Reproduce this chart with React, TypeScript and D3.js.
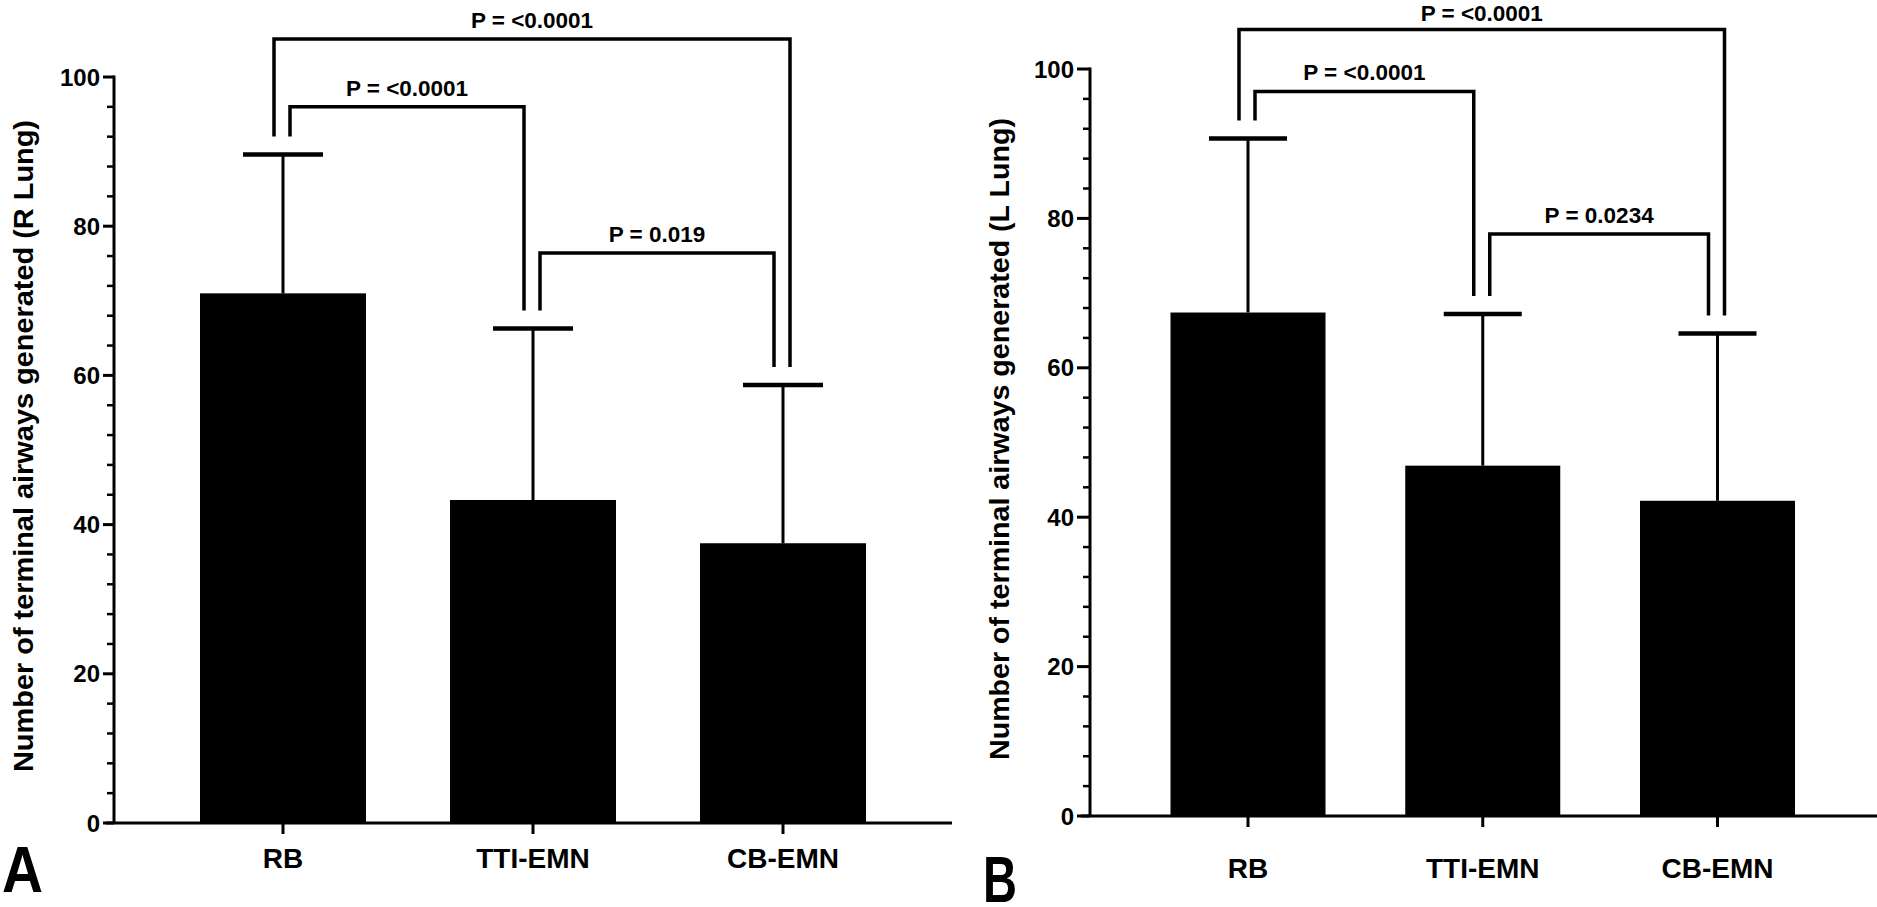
import React from "react";
import * as d3 from "d3";

// ---- data ----
const categories = ["RB", "TTI-EMN", "CB-EMN"];
const meanR = [71.0, 43.3, 37.5];
const sdR = [18.6, 23.0, 21.2];
const meanL = [67.4, 46.9, 42.2];
const sdL = [23.3, 20.3, 22.4];
const yTicks = [0, 20, 40, 60, 80, 100];
const compPairs: [number, number][] = [
  [0, 2],
  [0, 1],
  [1, 2],
];
const compLabelsR = ["P = <0.0001", "P = <0.0001", "P = 0.019"];
const compLabelsL = ["P = <0.0001", "P = <0.0001", "P = 0.0234"];
const compLevelsR = [105.1, 96.0, 76.4];
const compLevelsL = [105.3, 97.0, 77.9];
const yLabelR = "Number of terminal airways generated (R Lung)";
const yLabelL = "Number of terminal airways generated (L Lung)";

const FONT = "'Liberation Sans', Arial, sans-serif";

type PanelCfg = {
  letter: string;
  means: number[];
  sds: number[];
  labels: string[];
  levels: number[];
  yLabel: string;
  axisX: number;
  xAxisLeft: number;
  xAxisRight: number;
  y0: number;
  y100: number;
  c0: number;
  c1: number;
  barW: number;
  capHalf: number;
  tickLen: number;
  yLabelX: number;
  yLabelMid: number;
  yLabelLen: number;
  catBaseline: number;
  letterX: number;
  letterBase: number;
  letterW: number;
};

function Panel({ cfg }: { cfg: PanelCfg }) {
  const y = d3.scaleLinear().domain([0, 100]).range([cfg.y0, cfg.y100]);
  const x = d3.scalePoint<string>().domain(categories).range([cfg.c0, cfg.c1]);
  const minor = d3.range(0, 101, 4).filter((v) => v % 20 !== 0);
  const legGap = 18;
  const capTop = (i: number) => y(cfg.means[i] + cfg.sds[i]);
  return (
    <g>
      {/* bars */}
      {categories.map((c, i) => (
        <rect
          key={c}
          x={(x(c) as number) - cfg.barW / 2}
          y={y(cfg.means[i])}
          width={cfg.barW}
          height={y(0) - y(cfg.means[i])}
          fill="#000"
        />
      ))}
      {/* error bars */}
      {categories.map((c, i) => {
        const cx = x(c) as number;
        const top = capTop(i);
        return (
          <g key={"e" + c}>
            <line x1={cx} x2={cx} y1={y(cfg.means[i])} y2={top} stroke="#000" strokeWidth={3} />
            <line x1={cx - cfg.capHalf} x2={cx + cfg.capHalf} y1={top} y2={top} stroke="#000" strokeWidth={4.5} />
          </g>
        );
      })}
      {/* axes */}
      <line x1={cfg.axisX} x2={cfg.axisX} y1={y(0)} y2={y(100) - 1.5} stroke="#000" strokeWidth={3} />
      <line x1={cfg.xAxisLeft} x2={cfg.xAxisRight} y1={y(0)} y2={y(0)} stroke="#000" strokeWidth={3} />
      {yTicks.map((t) => (
        <g key={"t" + t}>
          <line x1={cfg.axisX - cfg.tickLen} x2={cfg.axisX} y1={y(t)} y2={y(t)} stroke="#000" strokeWidth={3} />
          <text
            x={cfg.axisX - cfg.tickLen - 3}
            y={y(t)}
            dy="0.36em"
            textAnchor="end"
            fontFamily={FONT}
            fontWeight="bold"
            fontSize={24}
          >
            {t}
          </text>
        </g>
      ))}
      {minor.map((t) => (
        <line
          key={"m" + t}
          x1={cfg.axisX - 7}
          x2={cfg.axisX}
          y1={y(t)}
          y2={y(t)}
          stroke="#000"
          strokeWidth={2.5}
        />
      ))}
      {categories.map((c) => (
        <g key={"x" + c}>
          <line x1={x(c) as number} x2={x(c) as number} y1={y(0)} y2={y(0) + 11} stroke="#000" strokeWidth={3} />
          <text
            x={x(c) as number}
            y={cfg.catBaseline}
            textAnchor="middle"
            fontFamily={FONT}
            fontWeight="bold"
            fontSize={28}
          >
            {c}
          </text>
        </g>
      ))}
      {/* comparison brackets */}
      {compPairs.map(([a, b], k) => {
        const wide = b - a > 1;
        const xa = (x(categories[a]) as number) + (wide ? -9 : 7);
        const xb = (x(categories[b]) as number) + (wide ? 7 : -9);
        const yl = y(cfg.levels[k]);
        const path = `M${xa},${capTop(a) - legGap}V${yl}H${xb}V${capTop(b) - legGap}`;
        return (
          <g key={"c" + k}>
            <path d={path} fill="none" stroke="#000" strokeWidth={3.5} />
            <text
              x={(xa + xb) / 2}
              y={Math.max(yl - 11, 21)}
              textAnchor="middle"
              fontFamily={FONT}
              fontWeight="bold"
              fontSize={22.5}
            >
              {cfg.labels[k]}
            </text>
          </g>
        );
      })}
      {/* y label */}
      <text
        transform={`translate(${cfg.yLabelX},${cfg.yLabelMid}) rotate(-90)`}
        textAnchor="middle"
        fontFamily={FONT}
        fontWeight="bold"
        fontSize={28.5}
        textLength={cfg.yLabelLen}
        lengthAdjust="spacingAndGlyphs"
      >
        {cfg.yLabel}
      </text>
      {/* panel letter */}
      <text
        x={cfg.letterX}
        y={cfg.letterBase}
        fontFamily={FONT}
        fontWeight="bold"
        fontSize={64}
        textLength={cfg.letterW}
        lengthAdjust="spacingAndGlyphs"
      >
        {cfg.letter}
      </text>
    </g>
  );
}

const panelA: PanelCfg = {
  letter: "A",
  means: meanR,
  sds: sdR,
  labels: compLabelsR,
  levels: compLevelsR,
  yLabel: yLabelR,
  axisX: 114,
  xAxisLeft: 106,
  xAxisRight: 952,
  y0: 823,
  y100: 77,
  c0: 283,
  c1: 783,
  barW: 166,
  capHalf: 40,
  tickLen: 11,
  yLabelX: 33,
  yLabelMid: 446,
  yLabelLen: 652,
  catBaseline: 868,
  letterX: 2,
  letterBase: 892,
  letterW: 41,
};

const panelB: PanelCfg = {
  letter: "B",
  means: meanL,
  sds: sdL,
  labels: compLabelsL,
  levels: compLevelsL,
  yLabel: yLabelL,
  axisX: 1090,
  xAxisLeft: 1081,
  xAxisRight: 1877,
  y0: 816,
  y100: 69,
  c0: 1248,
  c1: 1717.5,
  barW: 155,
  capHalf: 39,
  tickLen: 13,
  yLabelX: 1009,
  yLabelMid: 439,
  yLabelLen: 642,
  catBaseline: 878,
  letterX: 983,
  letterBase: 902,
  letterW: 34,
};

export default function App() {
  return (
    <svg
      width={1877}
      height={907}
      style={{ position: "absolute", left: 0, top: 0, background: "#fff" }}
    >
      <rect width={1877} height={907} fill="#fff" />
      <Panel cfg={panelA} />
      <Panel cfg={panelB} />
    </svg>
  );
}
